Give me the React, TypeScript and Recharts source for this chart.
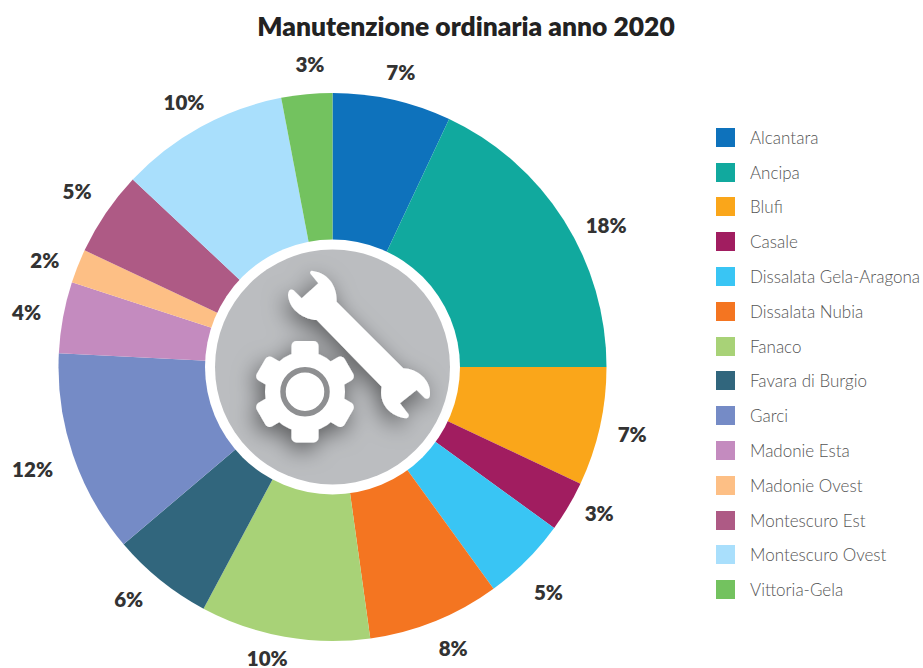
import React from "react";
import { PieChart, Pie, Legend } from "recharts";

const categories = ["Alcantara","Ancipa","Blufi","Casale","Dissalata Gela-Aragona","Dissalata Nubia","Fanaco","Favara di Burgio","Garci","Madonie Esta","Madonie Ovest","Montescuro Est","Montescuro Ovest","Vittoria-Gela"];
const values = [7,18,7,3,5,7.8,10,6,12,4.2,2,5,10,3];
const colors = ["#0E72BC","#11A99E","#FAA61A","#A11D60","#39C5F4","#F47521","#A8D277","#31667D","#758BC6","#C48BBF","#FDBF85","#AE5A85","#A9DFFC","#73C25F"];
const labelNudges = [[2,2],[17,21],[3,1],[5,-9],[1,10],[7,-1],[-12,-8],[-13,-5],[-12,4],[-7,0],[-5,5],[-4,-5],[-2,1],[6,0]];

const rows = categories.map((name, i) => ({ name, value: values[i], fill: colors[i] }));

const CX = 332.5, CY = 367, R = 274;
const FONT = "Lato, 'Open Sans', sans-serif";

const renderLabel = (p: any) => {
  const rad = (-p.midAngle * Math.PI) / 180;
  const r = p.outerRadius + 30;
  const [dx, dy] = labelNudges[p.index];
  return (
    <text x={p.cx + r * Math.cos(rad) + dx} y={p.cy + r * Math.sin(rad) + dy} textAnchor="middle" dominantBaseline="central"
      fontFamily={FONT} fontWeight={800} fontSize={20.5} fill="#333">{`${Math.round(p.payload.value)}%`}</text>
  );
};

const renderLegend = (props: any) => (
  <div>
    {props.payload.map((e: any) => (
      <div key={e.value} style={{ display: "flex", alignItems: "center", height: 34.8 }}>
        <span style={{ width: 19, height: 19, background: e.payload?.fill ?? e.color, display: "inline-block", marginRight: 15, flex: "none" }} />
        <span style={{ fontFamily: FONT, fontWeight: 300, fontSize: 17, color: "#555", whiteSpace: "nowrap" }}>{e.value}</span>
      </div>
    ))}
  </div>
);

const teeth = [0, 60, 120, 180, 240, 300];

export default function App() {
  return (
    <div style={{ position: "absolute", left: 0, top: 0, width: 923, height: 668, background: "#fff" }}>
      <PieChart width={923} height={668} margin={{ top: 0, right: 0, bottom: 0, left: 0 }}>
        <Pie data={rows} dataKey="value" nameKey="name" cx={CX} cy={CY} innerRadius={0} outerRadius={R}
          startAngle={90} endAngle={-270} stroke="none" label={renderLabel} labelLine={false} isAnimationActive={false} />
        <Legend layout="vertical" align="right" verticalAlign="top" content={renderLegend}
          wrapperStyle={{ position: "absolute", left: 716, top: 120, width: 207 }} />
      </PieChart>
      <svg width={923} height={668} style={{ position: "absolute", left: 0, top: 0, pointerEvents: "none" }}>
        <defs>
          <filter id="iconShadow" x="-50%" y="-50%" width="200%" height="200%">
            <feDropShadow dx={-3} dy={7} stdDeviation={11} floodColor="#000" floodOpacity={0.5} />
          </filter>
        </defs>
        <text x={466} y={26} textAnchor="middle" dominantBaseline="central" fontFamily={FONT} fontWeight={800} fontSize={26.4} fill="#222">Manutenzione ordinaria anno 2020</text>
        <circle cx={CX} cy={CY} r={127.5} fill="#fff" />
        <circle cx={CX} cy={CY} r={117.5} fill="#BBBDC0" />
        <g filter="url(#iconShadow)" fill="#fff">
          <g transform="translate(200,240) scale(0.3333)">
            <path d="M410,185 C412,150 395,100 335,92 Q326,96 334,104 L355,130 L305,175 L280,150 Q266,144 264,165 C268,215 320,240 350,240 L545,440 C535,490 570,530 620,535 Q632,528 622,518 L600,490 L650,450 L675,475 Q688,480 690,465 C695,420 650,385 610,385 Z" />
          </g>
          <circle cx={305} cy={391.7} r={40} />
          {teeth.map((a) => (
            <rect key={a} x={291.5} y={341} width={27} height={26} rx={5} transform={`rotate(${a} 305 391.7)`} />
          ))}
        </g>
        <circle cx={305} cy={391.7} r={22} fill="#fff" stroke="#8e8f91" strokeWidth={5.5} />
      </svg>
    </div>
  );
}
